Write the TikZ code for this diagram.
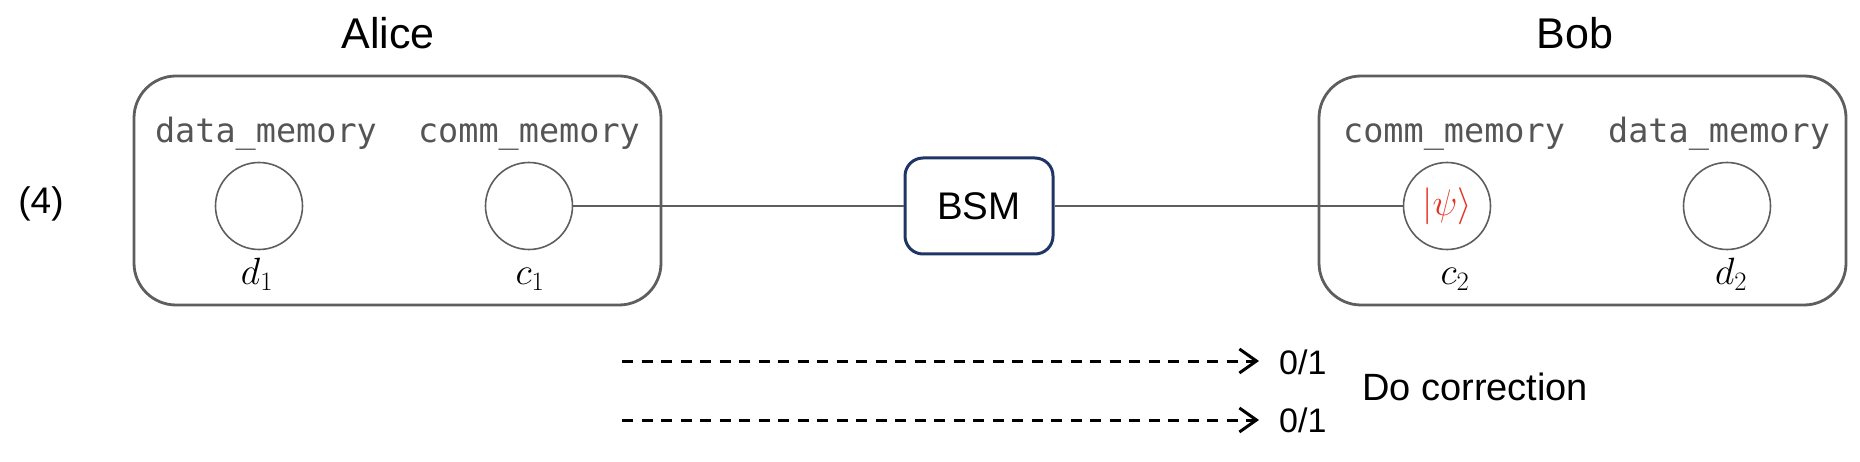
\RequirePackage{fix-cm}
\documentclass[tikz,border=0pt]{standalone}
\usepackage{fontspec}
\setmainfont{Liberation Sans}
\newfontfamily\memfont{DejaVu Sans Mono}
\usetikzlibrary{arrows.meta}
\definecolor{boxgray}{HTML}{5E5E5E}
\definecolor{memgray}{HTML}{555555}
\definecolor{bsmblue}{HTML}{1F3566}
\definecolor{psired}{HTML}{E53323}
\tikzset{
  groupbox/.style={draw=boxgray, line width=2.8pt, rounded corners=42pt, minimum width=527pt, minimum height=229pt, inner sep=0pt},
  membox/.style={circle, draw=boxgray, line width=1.6pt, minimum size=87pt, inner sep=0pt},
  memlabel/.style={text=memgray, font=\memfont\fontsize{33.5}{38}\selectfont, inner sep=0pt, anchor=base},
  mathlabel/.style={font=\fontsize{38}{42}\selectfont, inner sep=0pt, anchor=base},
  partylabel/.style={font=\fontsize{43}{48}\selectfont, inner sep=0pt, anchor=base},
  bitlabel/.style={font=\fontsize{34}{40}\selectfont, inner sep=0pt, anchor=base west},
  plainlabel/.style={font=\fontsize{38}{44}\selectfont, inner sep=0pt},
  bsmbox/.style={draw=bsmblue, line width=3pt, rounded corners=18pt, minimum width=148pt, minimum height=96pt, font=\fontsize{38.5}{44}\selectfont},
  link/.style={draw=boxgray, line width=2.4pt},
  msg/.style={line width=3pt, dash pattern=on 11pt off 8.5pt, -{Straight Barb[length=17pt,width=24pt,line width=3pt]}}
}
\begin{document}
\begin{tikzpicture}[x=1pt,y=-1pt]
\useasboundingbox (0,0) rectangle (1860,462);
\node[plainlabel, font=\fontsize{37}{42}\selectfont, anchor=base] (stagelabel) at (41,214) {(4)};
% Alice
\node[partylabel] (alice) at (388,49) {Alice};
\node[groupbox] (alicebox) at (397.5,190.5) {};
\node[memlabel] (adm) at (266,143) {data\_memory};
\node[memlabel] (acm) at (529,143) {comm\_memory};
\node[membox] (d1) at (259,206) {};
\node[membox] (c1) at (529,206) {};
\node[mathlabel] (d1l) at (257,285) {$d_1$};
\node[mathlabel] (c1l) at (530,285) {$c_1$};
% BSM
\node[bsmbox] (bsm) at (979,206) {BSM};
% Bob
\node[partylabel] (bob) at (1575,49) {Bob};
\node[groupbox] (bobbox) at (1582.5,190.5) {};
\node[memlabel] (bcm) at (1454,143) {comm\_memory};
\node[memlabel] (bdm) at (1719,143) {data\_memory};
\node[membox, font=\fontsize{37}{42}\selectfont] (c2) at (1447,206) {\textcolor{psired}{$|\psi\rangle$}};
\node[membox] (d2) at (1727,206) {};
\node[mathlabel] (c2l) at (1455,285) {$c_2$};
\node[mathlabel] (d2l) at (1731,285) {$d_2$};
% links
\draw[link] (c1.east) -- (bsm.west);
\draw[link] (bsm.east) -- (c2.west);
% classical messages
\coordinate (m1s) at (622,361);
\coordinate (m2s) at (622,420);
\coordinate (m1e) at (1259,361);
\coordinate (m2e) at (1259,420);
\node[bitlabel] (o1) at (1279,374) {0/1};
\node[bitlabel] (o2) at (1279,432) {0/1};
\draw[msg] (m1s) -- (m1e);
\draw[msg] (m2s) -- (m2e);
\node[plainlabel, anchor=base west] (corr) at (1362,400) {Do correction};
\end{tikzpicture}
\end{document}
